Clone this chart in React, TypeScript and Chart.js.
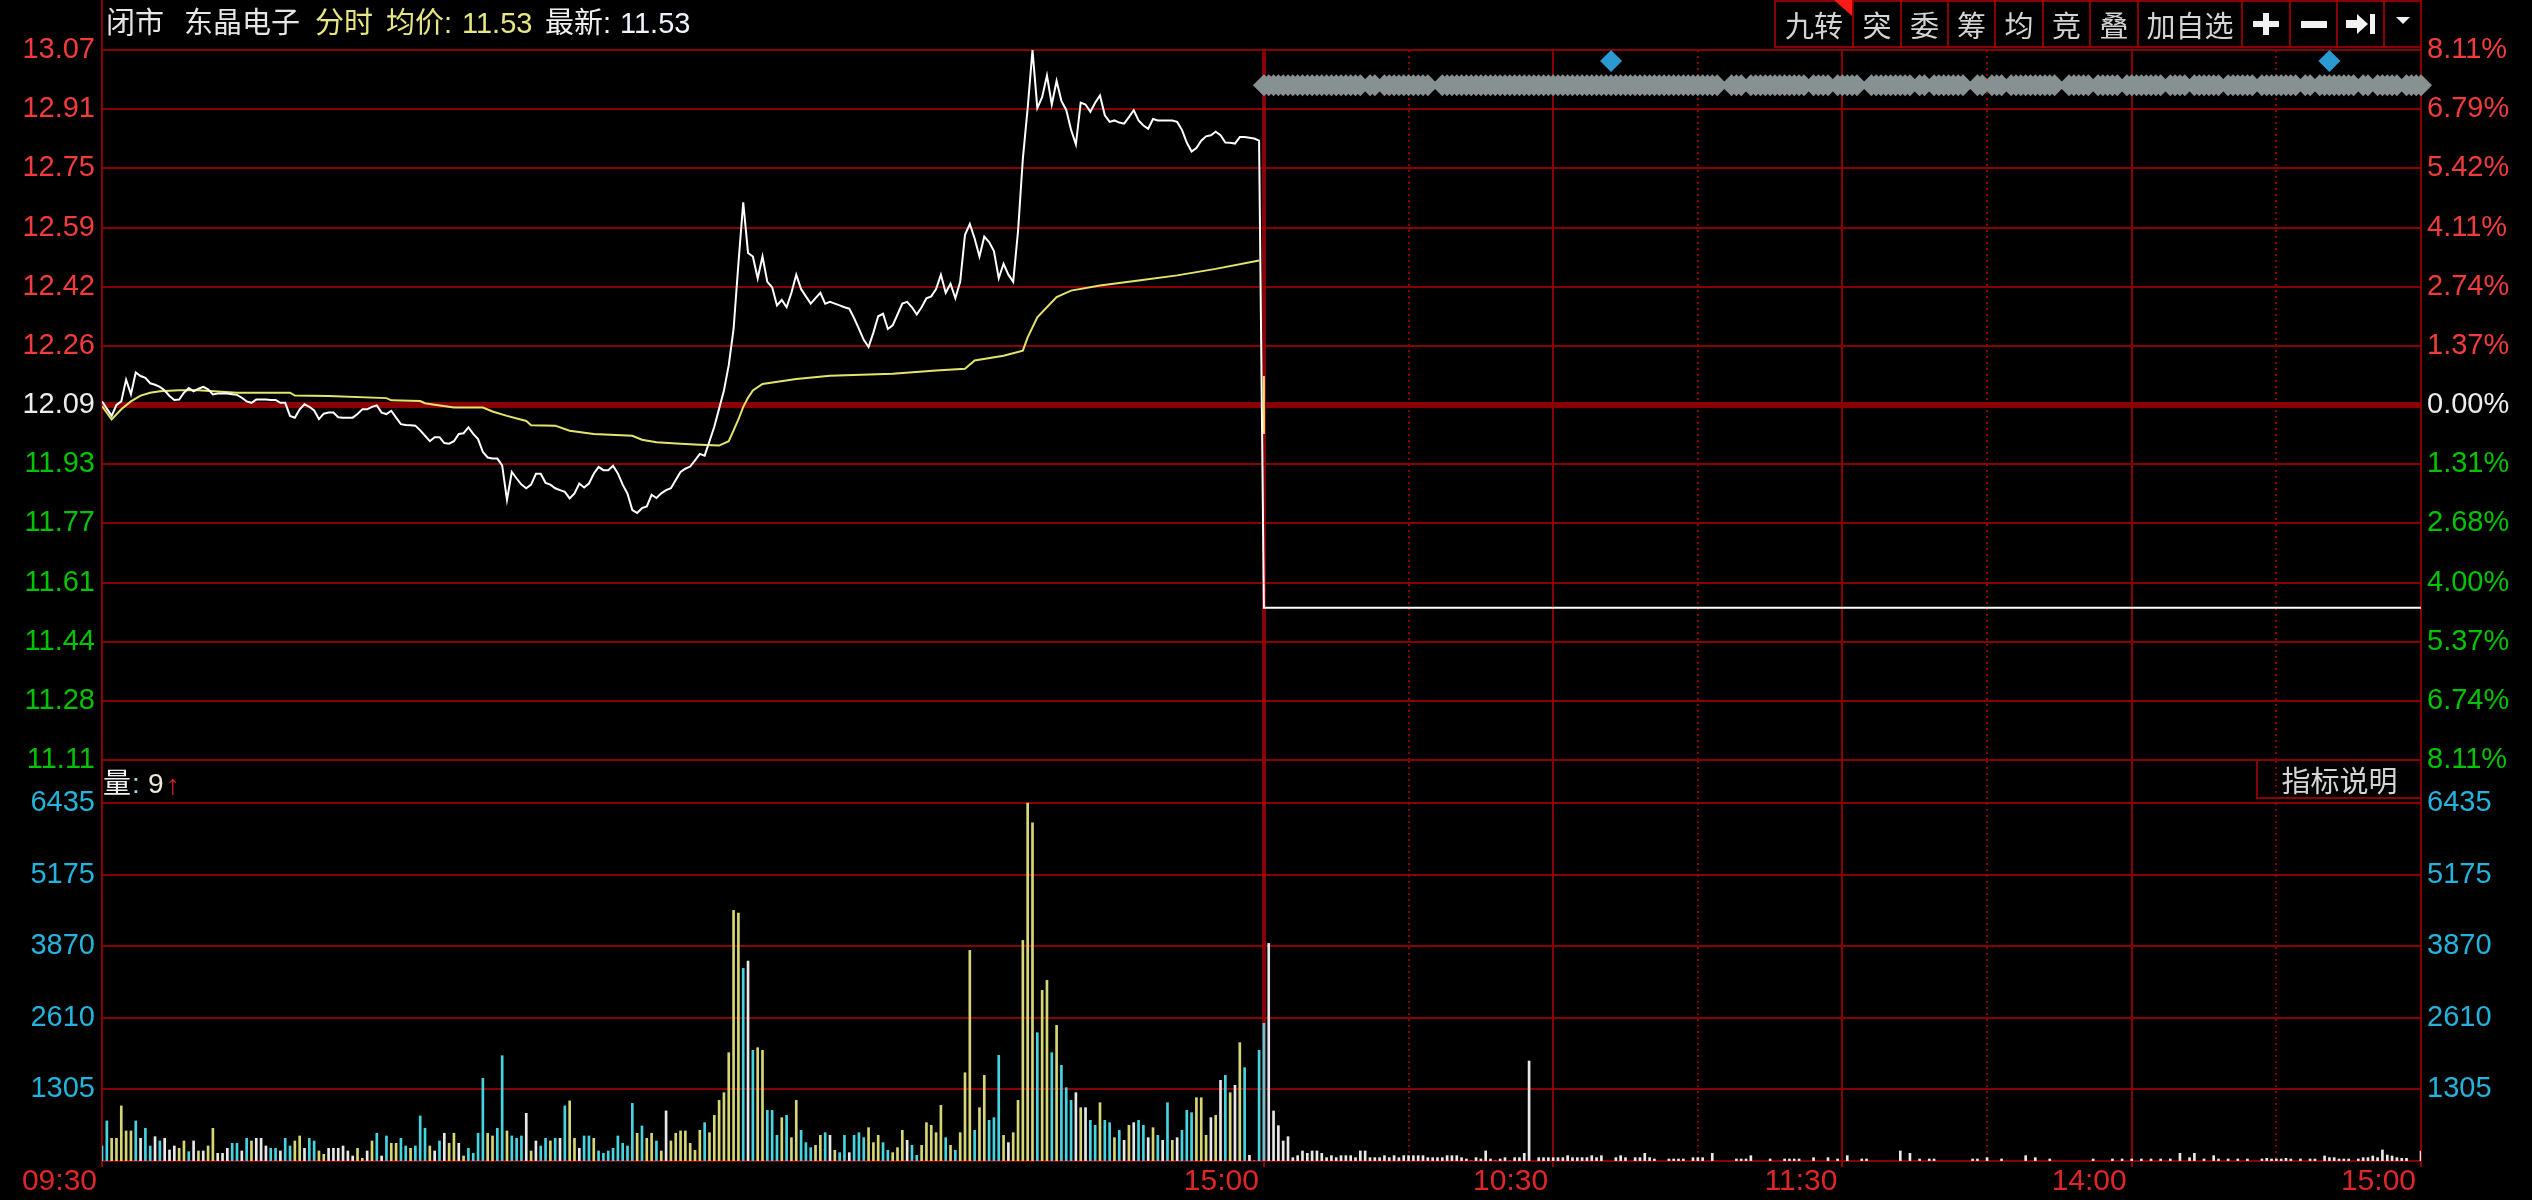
import React, { useEffect, useRef } from 'react';
import { Chart, registerables } from 'chart.js';

Chart.register(...registerables);

// ------------------------------------------------------------------ data
const PRE_CLOSE = 12.09;
const PRICE_RANGE = 0.9805;
const PRICE_LABELS = ['13.07', '12.91', '12.75', '12.59', '12.42', '12.26', '12.09', '11.93', '11.77', '11.61', '11.44', '11.28', '11.11'];
const PCT_LABELS = ['8.11%', '6.79%', '5.42%', '4.11%', '2.74%', '1.37%', '0.00%', '1.31%', '2.68%', '4.00%', '5.37%', '6.74%', '8.11%'];
const VOL_LABELS = ['6435', '5175', '3870', '2610', '1305'];
const VOL_LABEL_MAX = 6435;
const TIME_MINUTES = [0, 241, 271, 301, 331, 361, 391, 421, 451, 481];
const TIME_LABELS = ['09:30', '15:00', '', '10:30', '', '11:30', '', '14:00', '', '15:00'];
const TIME_KIND = ['edge', 'divider', 'dot', 'solid', 'dot', 'solid', 'dot', 'solid', 'dot', 'edge'];
const DAY2_START = 241;

const DAY1_PRICES = [
  12.10, 12.08, 12.06, 12.09, 12.10, 12.16, 12.12, 12.18, 12.17, 12.165,
  12.15, 12.146, 12.14, 12.13, 12.115, 12.104, 12.105, 12.124, 12.137, 12.128,
  12.135, 12.14, 12.133, 12.119, 12.122, 12.122, 12.122, 12.12, 12.118, 12.11,
  12.10, 12.096, 12.105, 12.105, 12.105, 12.104, 12.104, 12.096, 12.096, 12.06,
  12.055, 12.078, 12.092, 12.085, 12.075, 12.051, 12.066, 12.069, 12.069, 12.056,
  12.055, 12.055, 12.055, 12.065, 12.078, 12.078, 12.085, 12.089, 12.069, 12.065,
  12.074, 12.055, 12.037, 12.035, 12.034, 12.033, 12.02, 12.005, 11.99, 12.001,
  12.001, 11.985, 11.983, 11.99, 12.01, 12.012, 12.028, 12.01, 11.996, 11.96,
  11.945, 11.942, 11.942, 11.923, 11.828, 11.905, 11.887, 11.87, 11.86, 11.87,
  11.90, 11.90, 11.875, 11.87, 11.86, 11.855, 11.85, 11.832, 11.846, 11.873,
  11.862, 11.873, 11.90, 11.919, 11.91, 11.91, 11.922, 11.901, 11.87, 11.845,
  11.80, 11.792, 11.805, 11.81, 11.842, 11.833, 11.846, 11.855, 11.86, 11.883,
  11.905, 11.914, 11.92, 11.937, 11.955, 11.95, 11.99, 12.03, 12.08, 12.13,
  12.20, 12.30, 12.48, 12.65, 12.51, 12.50, 12.44, 12.50, 12.43, 12.415,
  12.365, 12.38, 12.36, 12.40, 12.45, 12.41, 12.39, 12.37, 12.385, 12.40,
  12.37, 12.375, 12.37, 12.365, 12.36, 12.356, 12.33, 12.30, 12.27, 12.25,
  12.29, 12.335, 12.342, 12.30, 12.31, 12.34, 12.37, 12.375, 12.36, 12.34,
  12.36, 12.385, 12.39, 12.41, 12.45, 12.40, 12.425, 12.385, 12.43, 12.56,
  12.59, 12.55, 12.50, 12.555, 12.54, 12.515, 12.44, 12.48, 12.45, 12.43,
  12.57, 12.77, 12.91, 13.07, 12.91, 12.94, 13.00, 12.92, 12.985, 12.93,
  12.905, 12.85, 12.81, 12.925, 12.92, 12.90, 12.925, 12.945, 12.89, 12.872,
  12.876, 12.87, 12.867, 12.885, 12.904, 12.876, 12.862, 12.853, 12.88, 12.876,
  12.876, 12.876, 12.876, 12.872, 12.85, 12.815, 12.79, 12.80, 12.82, 12.832,
  12.835, 12.845, 12.835, 12.815, 12.814, 12.812, 12.83, 12.83, 12.828, 12.826,
  12.82,
];
const DAY2_PRICE_MIN = [0, 240];
const DAY2_PRICES = [11.53, 11.53];

const AVG1_MIN = [0, 2, 4, 6, 8, 10, 12, 16, 20, 24, 28, 39, 40, 47, 59, 60, 66, 67, 69, 73, 79, 81, 84, 88, 89, 94, 97, 102, 110, 112, 115, 120, 124, 128, 130, 131, 132, 133, 134, 135, 137, 144, 151, 164, 173, 179, 181, 187, 191, 192, 194, 198, 201, 207, 215, 223, 231, 240];
const AVG1_VAL = [12.087, 12.05, 12.078, 12.10, 12.116, 12.124, 12.128, 12.131, 12.131, 12.127, 12.124, 12.124, 12.116, 12.115, 12.109, 12.103, 12.101, 12.095, 12.091, 12.083, 12.083, 12.072, 12.06, 12.046, 12.034, 12.033, 12.019, 12.01, 12.005, 11.994, 11.987, 11.983, 11.98, 11.978, 11.99, 12.02, 12.05, 12.085, 12.11, 12.13, 12.148, 12.162, 12.171, 12.176, 12.185, 12.19, 12.213, 12.226, 12.24, 12.277, 12.332, 12.388, 12.406, 12.42, 12.434, 12.448, 12.466, 12.489];
const AVG2_MIN = [0, 0];
const AVG2_VAL = [12.17, 12.01];

const VOL1 = [
  270, 720, 408, 408, 990, 540, 540, 720, 408, 588,
  270, 437, 360, 408, 198, 270, 228, 360, 168, 360,
  180, 180, 270, 588, 138, 138, 228, 318, 318, 180,
  408, 360, 408, 408, 270, 228, 228, 180, 408, 270,
  360, 450, 228, 408, 360, 180, 120, 228, 228, 228,
  270, 180, 90, 228, 48, 180, 360, 498, 90, 450,
  318, 318, 408, 270, 228, 270, 810, 588, 270, 180,
  360, 498, 318, 498, 318, 90, 228, 138, 498, 1485,
  498, 450, 588, 1893, 540, 450, 408, 450, 857, 180,
  360, 270, 408, 360, 408, 408, 990, 1080, 408, 228,
  450, 450, 408, 180, 138, 180, 228, 450, 318, 270,
  1036, 498, 630, 408, 498, 360, 180, 900, 360, 498,
  540, 540, 318,
  192, 551, 689, 509, 820, 1090, 1228, 1947, 4504, 4457,
  3462, 3594, 1989, 2037, 1989, 910, 910, 461, 779, 820,
  419, 1090, 551, 330, 240, 282, 461, 509, 461, 192,
  150, 461, 150, 461, 509, 419, 599, 330, 461, 330,
  192, 150, 240, 551, 371, 282, 102, 282, 689, 641,
  509, 1000, 419, 282, 192, 509, 1587, 3786, 551, 958,
  1539, 731, 779, 1899, 461, 330, 509, 1090, 3965, 6435,
  6080, 2306, 3067, 3247, 1947, 2438, 1719, 1318, 1090, 1228,
  958, 958, 731, 641, 1048, 731, 689, 419, 551, 371,
  641, 689, 731, 641, 419, 599, 461, 371, 1048, 371,
  419, 551, 910, 869, 1138, 1138, 461, 779, 820, 1450,
  1539, 1228, 1360, 2127, 1677, 102, 0, 1989,
];
// y = up minute (yellow), c = down minute (cyan), w = flat minute (white)
const VOL1_COLORS =
  'ccyyyyycwc' + 'cwcwwwyycw' + 'ywyywwwccw' + 'cywwwccwcc' + 'yywccyywww' + 'wwwyywycwc' +
  'yyccycccyw' + 'cwyywycccc' + 'yyccycccwy' + 'wccycwcyyw' + 'ccyccccccc' + 'cycyycywyy' + 'yyy' +
  'yycyyyyyyy' + 'cwcyycccyc' + 'yycccyycwy' + 'ccwcccyyyc' + 'cyyywccyyy' + 'yycycyyycy' +
  'ycccywyyyy' + 'ycyycycccw' + 'ywccyccycw' + 'ywccwycwcy' + 'wcccyyywyw' + 'cywycwwc';

const VOL2_HEAD = [2474, 3911, 899, 635, 359, 437, 60, 96, 180, 138, 180, 180, 138, 60, 96, 60, 96, 96, 96, 60, 180, 180, 60, 60, 60, 96, 60, 96, 60, 96, 96, 96, 96, 96, 60, 60, 60, 60, 96, 96, 96, 60, 36, 0, 60, 36, 180, 36, 0, 36, 60, 0, 60, 60, 138, 1797];
const VOL2_HEAD_COLORS = 'cw';
const VOL2_MIN = [57, 58, 59, 60, 61, 62, 63, 64, 65, 66, 67, 68, 69, 70, 73, 74, 75, 77, 78, 79, 80, 81, 84, 85, 86, 87, 89, 90, 91, 93, 98, 99, 100, 101, 105, 108, 109, 110, 111, 114, 117, 119, 121, 124, 125, 132, 134, 136, 138, 139, 147, 148, 150, 153, 158, 160, 163, 172, 176, 178, 180, 182, 184, 186, 188, 190, 192, 193, 195, 197, 198, 200, 202, 204, 207, 208, 209, 210, 211, 212, 213, 215, 217, 218, 220, 221, 222, 223, 224, 225, 227, 228, 229, 230, 231, 232, 233, 234, 235, 236, 237, 240];
const VOL2_VAL = [60, 60, 60, 60, 60, 60, 96, 60, 60, 60, 60, 96, 60, 96, 60, 96, 60, 60, 60, 138, 60, 36, 36, 36, 36, 36, 60, 60, 60, 138, 36, 36, 36, 96, 36, 36, 36, 36, 36, 60, 60, 36, 96, 36, 36, 180, 138, 36, 36, 36, 36, 36, 60, 36, 96, 60, 36, 36, 36, 36, 36, 36, 36, 36, 36, 138, 60, 138, 36, 96, 36, 36, 36, 36, 36, 48, 36, 36, 36, 48, 36, 36, 36, 36, 90, 60, 60, 36, 36, 36, 36, 60, 60, 90, 60, 198, 108, 90, 60, 48, 48, 180];

const MARKER_RUNS = [[241, 261], [263, 264], [266, 275], [278, 335], [338, 340], [342, 353], [355, 358], [360, 364], [367, 375], [377, 378], [380, 386], [389, 390], [392, 394], [396, 405], [408, 412], [414, 418], [420, 427], [429, 432], [434, 439], [441, 446], [448, 455], [457, 458], [460, 467], [469, 470], [472, 476], [478, 481]];
const MARKER_PRICE = 12.973;
const FLAG_MIN = [313, 462];
const FLAG_PRICE = 13.04;

const TOOLBAR_ITEMS = ['九转', '突', '委', '筹', '均', '竞', '叠', '加自选', '+', '−', '⇥', '▾'];

// ------------------------------------------------------------------ styles
const W = 2532;
const PLOT_LEFT = 102;
const PLOT_RIGHT = 2421;
const GRID = '#8a0000';
const UP = '#f23c3c';
const DOWN = '#00c400';
const FLAT = '#ececec';
const VOL_TXT = '#22b4dc';
const TIME_RED = '#e02626';
const AVG_YELLOW = '#e4e46a';
const BAR_COLORS: Record<string, string> = { y: '#d6d674', c: '#46d4e0', w: '#e8e8e8' };
const DIAMOND = '#879191';
const FLAG = '#2b9ad2';
const AXIS_FONT = { family: "'Liberation Sans', Arial, sans-serif", size: 29, lineHeight: 1.2 };
const TIME_FONT = { family: "'Liberation Sans', Arial, sans-serif", size: 30, lineHeight: 1 };
const CJK = "'Liberation Sans', 'Noto Sans CJK SC', sans-serif";

const xGridColor = (c: any) => (TIME_KIND[c.index] === 'edge' || c.index === undefined ? 'rgba(0,0,0,0)' : GRID);
const xGridWidth = (c: any) => (TIME_KIND[c.index] === 'divider' ? 4 : 2);
const xGridDash = (c: any) => (c.type === 'tick' && TIME_KIND[c.index] === 'dot' ? [2, 4] : []);
const xTickColor = (c: any) => (TIME_KIND[c.index] === 'dot' ? 'rgba(0,0,0,0)' : GRID);

function xScale(extra: any) {
  return {
    type: 'linear',
    min: 0,
    max: 481,
    offset: false,
    afterBuildTicks: (s: any) => {
      s.ticks = TIME_MINUTES.map((v) => ({ value: v }));
    },
    ...extra,
  };
}

function priceConfig(): any {
  const max = PRE_CLOSE + PRICE_RANGE;
  const min = PRE_CLOSE - PRICE_RANGE;
  const step = (max - min) / (PRICE_LABELS.length - 1);
  const zeroIdx = PRICE_LABELS.indexOf('12.09');
  const priceData = [
    ...DAY1_PRICES.map((y, i) => ({ x: i, y })),
    ...DAY2_PRICE_MIN.map((m, i) => ({ x: DAY2_START + m, y: DAY2_PRICES[i] })),
  ];
  const avgData = AVG1_MIN.map((m, i) => ({ x: m, y: AVG1_VAL[i] }));
  const avg2Data = AVG2_MIN.map((m, i) => ({ x: DAY2_START + m, y: AVG2_VAL[i] }));
  const markers: { x: number; y: number }[] = [];
  MARKER_RUNS.forEach(([a, b]) => {
    for (let m = a; m <= b; m++) markers.push({ x: m, y: MARKER_PRICE });
  });
  const flags = FLAG_MIN.map((m) => ({ x: m, y: FLAG_PRICE }));
  const yTicks = (s: any) => {
    s.ticks = PRICE_LABELS.map((_, i) => ({ value: max - i * step }));
  };
  const labelColor = (c: any) => (c.index < zeroIdx ? UP : c.index === zeroIdx ? FLAT : DOWN);
  return {
    type: 'line',
    data: {
      datasets: [
        { data: avg2Data, borderColor: AVG_YELLOW, borderWidth: 2, pointRadius: 0 },
        { data: priceData, borderColor: '#ffffff', borderWidth: 2, pointRadius: 0 },
        { data: avgData, borderColor: AVG_YELLOW, borderWidth: 2, pointRadius: 0 },
        { data: flags, showLine: false, pointStyle: 'rectRot', pointRadius: 11, pointBackgroundColor: FLAG, pointBorderWidth: 0, clip: false },
        { data: markers, showLine: false, pointStyle: 'rectRot', pointRadius: 11, pointBackgroundColor: DIAMOND, pointBorderWidth: 0, clip: false },
      ],
    },
    options: {
      responsive: false,
      animation: false,
      devicePixelRatio: 1,
      events: [],
      layout: { padding: { top: 50, bottom: 26, left: 0, right: 0 } },
      plugins: { legend: { display: false }, tooltip: { enabled: false } },
      elements: { line: { tension: 0 } },
      scales: {
        x: xScale({
          afterFit: (s: any) => {
            s.height = 0;
          },
          ticks: { display: false },
          grid: { drawTicks: false, color: xGridColor, lineWidth: xGridWidth },
          border: { display: false, dash: xGridDash },
        }),
        y: {
          position: 'left',
          min,
          max,
          afterBuildTicks: yTicks,
          afterFit: (s: any) => {
            s.width = PLOT_LEFT;
          },
          ticks: { autoSkip: false, padding: 7, font: AXIS_FONT, color: labelColor, callback: (_v: any, i: number) => PRICE_LABELS[i] },
          grid: { drawTicks: false, color: GRID, lineWidth: (c: any) => (c.index === zeroIdx ? 6 : 2) },
          border: { display: true, color: GRID, width: 2 },
        },
        yR: {
          position: 'right',
          min,
          max,
          afterBuildTicks: yTicks,
          afterFit: (s: any) => {
            s.width = W - PLOT_RIGHT;
          },
          ticks: { autoSkip: false, padding: 6, font: AXIS_FONT, color: labelColor, callback: (_v: any, i: number) => PCT_LABELS[i] },
          grid: { drawOnChartArea: false, drawTicks: false },
          border: { display: true, color: GRID, width: 2 },
        },
      },
    },
  };
}

function volumeConfig(): any {
  const volMax = (VOL_LABEL_MAX * 400) / 358; // panel extends above the top volume line (header strip)
  const step = VOL_LABEL_MAX / VOL_LABELS.length;
  const data: { x: number; y: number }[] = [];
  const colors: string[] = [];
  VOL1.forEach((v, i) => {
    data.push({ x: i, y: v });
    colors.push(BAR_COLORS[VOL1_COLORS[i]]);
  });
  VOL2_HEAD.forEach((v, i) => {
    data.push({ x: DAY2_START + i, y: v });
    colors.push(BAR_COLORS[VOL2_HEAD_COLORS[Math.min(i, VOL2_HEAD_COLORS.length - 1)]]);
  });
  VOL2_MIN.forEach((m, i) => {
    data.push({ x: DAY2_START + m, y: VOL2_VAL[i] });
    colors.push(BAR_COLORS.w);
  });
  const yTicks = (s: any) => {
    s.ticks = VOL_LABELS.map((_, i) => ({ value: VOL_LABEL_MAX - i * step }));
  };
  return {
    type: 'bar',
    data: { datasets: [{ data, backgroundColor: colors, barThickness: 2, borderWidth: 0 }] },
    options: {
      responsive: false,
      animation: false,
      devicePixelRatio: 1,
      events: [],
      layout: { padding: { top: 31, bottom: 0, left: 0, right: 0 } },
      plugins: { legend: { display: false }, tooltip: { enabled: false } },
      scales: {
        x: xScale({
          afterFit: (s: any) => {
            s.height = 39;
          },
          ticks: {
            autoSkip: false,
            maxRotation: 0,
            minRotation: 0,
            align: 'end',
            labelOffset: -5,
            padding: 0,
            color: TIME_RED,
            font: TIME_FONT,
            callback: (_v: any, i: number) => TIME_LABELS[i],
          },
          grid: { offset: false, color: xGridColor, lineWidth: xGridWidth, drawTicks: true, tickLength: 6, tickWidth: 2, tickColor: xTickColor },
          border: { display: true, color: GRID, width: 2, dash: xGridDash },
        }),
        y: {
          position: 'left',
          min: 0,
          max: volMax,
          afterBuildTicks: yTicks,
          afterFit: (s: any) => {
            s.width = PLOT_LEFT;
          },
          ticks: { autoSkip: false, padding: 7, font: AXIS_FONT, color: VOL_TXT, callback: (_v: any, i: number) => VOL_LABELS[i] },
          grid: { drawTicks: false, color: GRID, lineWidth: 2 },
          border: { display: true, color: GRID, width: 2 },
        },
        yR: {
          position: 'right',
          min: 0,
          max: volMax,
          afterBuildTicks: yTicks,
          afterFit: (s: any) => {
            s.width = W - PLOT_RIGHT;
          },
          ticks: { autoSkip: false, padding: 6, font: AXIS_FONT, color: VOL_TXT, callback: (_v: any, i: number) => VOL_LABELS[i] },
          grid: { drawOnChartArea: false, drawTicks: false },
          border: { display: true, color: GRID, width: 2 },
        },
      },
    },
  };
}

// ------------------------------------------------------------------ components
function Txt(props: { x: number; y: number; size: number; color: string; children: any; family?: string }) {
  return (
    <div
      style={{
        position: 'absolute',
        left: props.x,
        top: props.y,
        fontSize: props.size,
        lineHeight: `${props.size}px`,
        color: props.color,
        fontFamily: props.family || CJK,
        whiteSpace: 'nowrap',
      }}
    >
      {props.children}
    </div>
  );
}

function ToolIcon({ name }: { name: string }) {
  const fill = '#f2f2f2';
  if (name === '+')
    return (
      <svg width="26" height="22">
        <rect x="0" y="8" width="26" height="6" fill={fill} />
        <rect x="10" y="0" width="6" height="22" fill={fill} />
      </svg>
    );
  if (name === '−')
    return (
      <svg width="26" height="7">
        <rect x="0" y="0" width="26" height="7" fill={fill} />
      </svg>
    );
  if (name === '⇥')
    return (
      <svg width="30" height="20">
        <rect x="0" y="6" width="11" height="8" fill={fill} />
        <polygon points="11,0 22,10 11,20" fill={fill} />
        <rect x="24" y="0" width="5" height="20" fill={fill} />
      </svg>
    );
  if (name === '▾')
    return (
      <svg width="14" height="8" style={{ marginTop: -6 }}>
        <polygon points="0,0 14,0 7,7" fill={fill} />
      </svg>
    );
  return <span>{name}</span>;
}

function Toolbar() {
  const edges = [1774, 1852, 1900, 1947, 1994, 2042, 2089, 2137, 2241, 2289, 2336, 2383, PLOT_RIGHT];
  return (
    <>
      {TOOLBAR_ITEMS.map((item, i) => (
        <div
          key={i}
          style={{
            position: 'absolute',
            left: edges[i],
            top: 0,
            width: edges[i + 1] - edges[i],
            height: 48,
            boxSizing: 'border-box',
            borderLeft: `2px solid ${GRID}`,
            borderTop: `2px solid ${GRID}`,
            borderBottom: `2px solid ${GRID}`,
            display: 'flex',
            alignItems: 'center',
            justifyContent: 'center',
            color: '#d4d4d4',
            fontFamily: "'Noto Sans CJK SC', sans-serif",
            fontSize: 29,
            lineHeight: '30px',
          }}
        >
          <ToolIcon name={item} />
        </div>
      ))}
      <svg width="18" height="16" style={{ position: 'absolute', left: 1834, top: 0 }}>
        <polygon points="0,0 18,0 18,16" fill="#ff1a1a" />
      </svg>
    </>
  );
}

export default function App() {
  const priceRef = useRef<HTMLCanvasElement>(null);
  const volRef = useRef<HTMLCanvasElement>(null);

  useEffect(() => {
    const pc = new Chart(priceRef.current as HTMLCanvasElement, priceConfig());
    const vc = new Chart(volRef.current as HTMLCanvasElement, volumeConfig());
    return () => {
      pc.destroy();
      vc.destroy();
    };
  }, []);

  return (
    <div style={{ position: 'fixed', left: 0, top: 0, width: W, height: 1200, background: '#000', overflow: 'hidden' }}>
      <canvas ref={priceRef} width={W} height={786} style={{ position: 'absolute', left: 0, top: 0 }} />
      <canvas ref={volRef} width={W} height={470} style={{ position: 'absolute', left: 0, top: 730 }} />

      {/* frame lines above the plot */}
      <div style={{ position: 'absolute', left: PLOT_LEFT - 1, top: 0, width: 2, height: 50, background: GRID }} />
      <div style={{ position: 'absolute', left: PLOT_RIGHT - 1, top: 0, width: 2, height: 50, background: GRID }} />

      {/* header */}
      <Txt x={106} y={9} size={29} color="#e6e6e6">闭市</Txt>
      <Txt x={184} y={9} size={29} color="#e6e6e6">东晶电子</Txt>
      <Txt x={315} y={9} size={29} color="#e6e682">分时</Txt>
      <Txt x={386} y={9} size={29} color="#e6e682">均价:</Txt>
      <Txt x={462} y={9} size={29} color="#e6e682">11.53</Txt>
      <Txt x={545} y={9} size={29} color="#f0f0f0">最新:</Txt>
      <Txt x={620} y={9} size={29} color="#eef3ff">11.53</Txt>

      <Toolbar />

      {/* volume header */}
      <Txt x={103} y={770} size={28} color="#f0f0f0">量</Txt>
      <Txt x={132} y={770} size={28} color="#9fd8e8">:</Txt>
      <Txt x={148} y={770} size={28} color="#f0e8d8">9</Txt>
      <Txt x={166} y={771} size={28} color="#e02020">↑</Txt>
      <div
        style={{
          position: 'absolute',
          left: 2256,
          top: 760,
          width: PLOT_RIGHT - 2256,
          height: 39,
          boxSizing: 'border-box',
          borderLeft: `2px solid ${GRID}`,
          borderBottom: `2px solid ${GRID}`,
          display: 'flex',
          alignItems: 'center',
          justifyContent: 'center',
          color: '#d4d4d4',
          fontFamily: "'Noto Sans CJK SC', sans-serif",
          fontSize: 29,
          lineHeight: '30px',
        }}
      >
        指标说明
      </div>
    </div>
  );
}
